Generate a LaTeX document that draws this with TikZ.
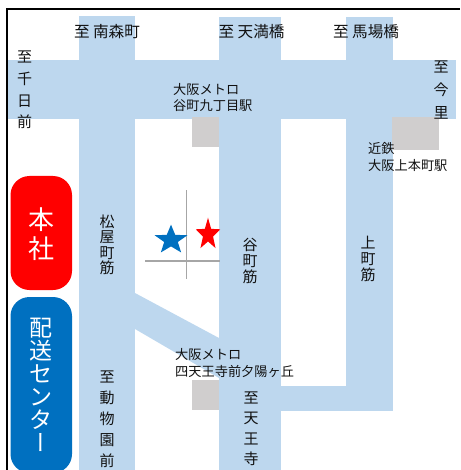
\documentclass[tikz,border=0pt]{standalone}
\usepackage{fontspec}
\setmainfont{Noto Sans CJK JP}
\newfontfamily\jpv[RawFeature=+vert]{Noto Sans CJK JP}
\definecolor{road}{HTML}{BDD7EE}
\definecolor{station}{HTML}{D0CECE}
\definecolor{ink}{HTML}{111111}
\definecolor{hq}{HTML}{FF0000}
\definecolor{depot}{HTML}{0070C0}
\definecolor{street}{HTML}{A6A6A6}
\tikzset{
  roadfill/.style={fill=road,draw=none},
  stationfill/.style={fill=station,draw=none},
  pill/.style={rounded corners=19pt,draw=none},
  lab/.style={text=ink,inner sep=0pt,font=\fontsize{15.6}{15.6}\selectfont},
  stationlab/.style={text=ink,inner sep=0pt,anchor=west,font=\fontsize{13.2}{13.2}\selectfont},
  vlab/.style={text=ink,inner sep=0pt,align=center},
  star5/.style={star,star points=5,star point ratio=2.4,inner sep=0pt,draw=none,transform shape},
}
\usetikzlibrary{shapes.geometric}
\begin{document}
\begin{tikzpicture}[x=1pt,y=-1pt]
\useasboundingbox (0,0) rectangle (460,470);
% roads
\fill[roadfill] (79,16) rectangle (135,470);
\fill[roadfill] (219,17) rectangle (281,470);
\fill[roadfill] (346,17) rectangle (393,411);
\fill[roadfill] (7,60) rectangle (456,119);
\fill[roadfill] (281,386) rectangle (393,411);
\fill[roadfill] (135,293) -- (219,338) -- (219,378) -- (135,329) -- cycle;
% stations
\fill[stationfill] (192,117) rectangle (219,147);
\fill[stationfill] (392,117) rectangle (439,150);
\fill[stationfill] (192,380) rectangle (219,410);
% frame
\draw[black,line width=2pt] (6.5,470) -- (6.5,9.5) -- (460,9.5);
% pills
\fill[hq,pill] (10.5,176) rectangle (72,290);
\fill[depot,pill] (10.5,297) rectangle (72,473);
% cross streets
\draw[street,line width=1.3pt] (186.5,190) -- (186.5,279);
\draw[street,line width=1.3pt] (145,261) -- (220,261);
% stars
\node[star5,fill=depot,minimum size=34.5pt,yscale=.89] (bluestar) at (171,240) {};
\node[star5,fill=hq,minimum size=25.6pt,yscale=1.31] (redstar) at (208,234.5) {};
% labels
\node[lab] (n1) at (107,32) {至 南森町};
\node[lab] (n2) at (251.5,32) {至 天満橋};
\node[lab] (n3) at (366,32) {至 馬場橋};
\node[vlab,font=\fontsize{15}{21.8}\selectfont] (w) at (24.5,90) {至\\千\\日\\前};
\node[vlab,font=\fontsize{15}{23}\selectfont] (e) at (441,90) {至\\今\\里};
\node[stationlab] (s1a) at (173,89) {大阪メトロ};
\node[stationlab] (s1b) at (173,106) {谷町九丁目駅};
\node[stationlab] (s2a) at (368,149) {近鉄};
\node[stationlab] (s2b) at (368,166) {大阪上本町駅};
\node[stationlab] (s3a) at (175,354) {大阪メトロ};
\node[stationlab] (s3b) at (175,371) {四天王寺前夕陽ヶ丘};
\node[vlab,font=\fontsize{15}{15.5}\selectfont] (r1) at (107,245) {松\\屋\\町\\筋};
\node[vlab,font=\fontsize{15}{16}\selectfont] (r2) at (250,261) {谷\\町\\筋};
\node[vlab,font=\fontsize{15}{16}\selectfont] (r3) at (368,259) {上\\町\\筋};
\node[vlab,font=\fontsize{15}{20.9}\selectfont] (z) at (107,419) {至\\動\\物\\園\\前};
\node[vlab,font=\fontsize{15}{20.5}\selectfont] (t) at (251,429) {至\\天\\王\\寺};
\node[vlab,text=white,font=\fontsize{26}{29}\selectfont] (hq) at (41,234) {本\\社};
\node[vlab,text=white,font=\fontsize{23}{23}\selectfont] (dep) at (41,385) {配\\送\\セ\\ン\\タ\\{\jpv ー}};
\end{tikzpicture}
\end{document}
